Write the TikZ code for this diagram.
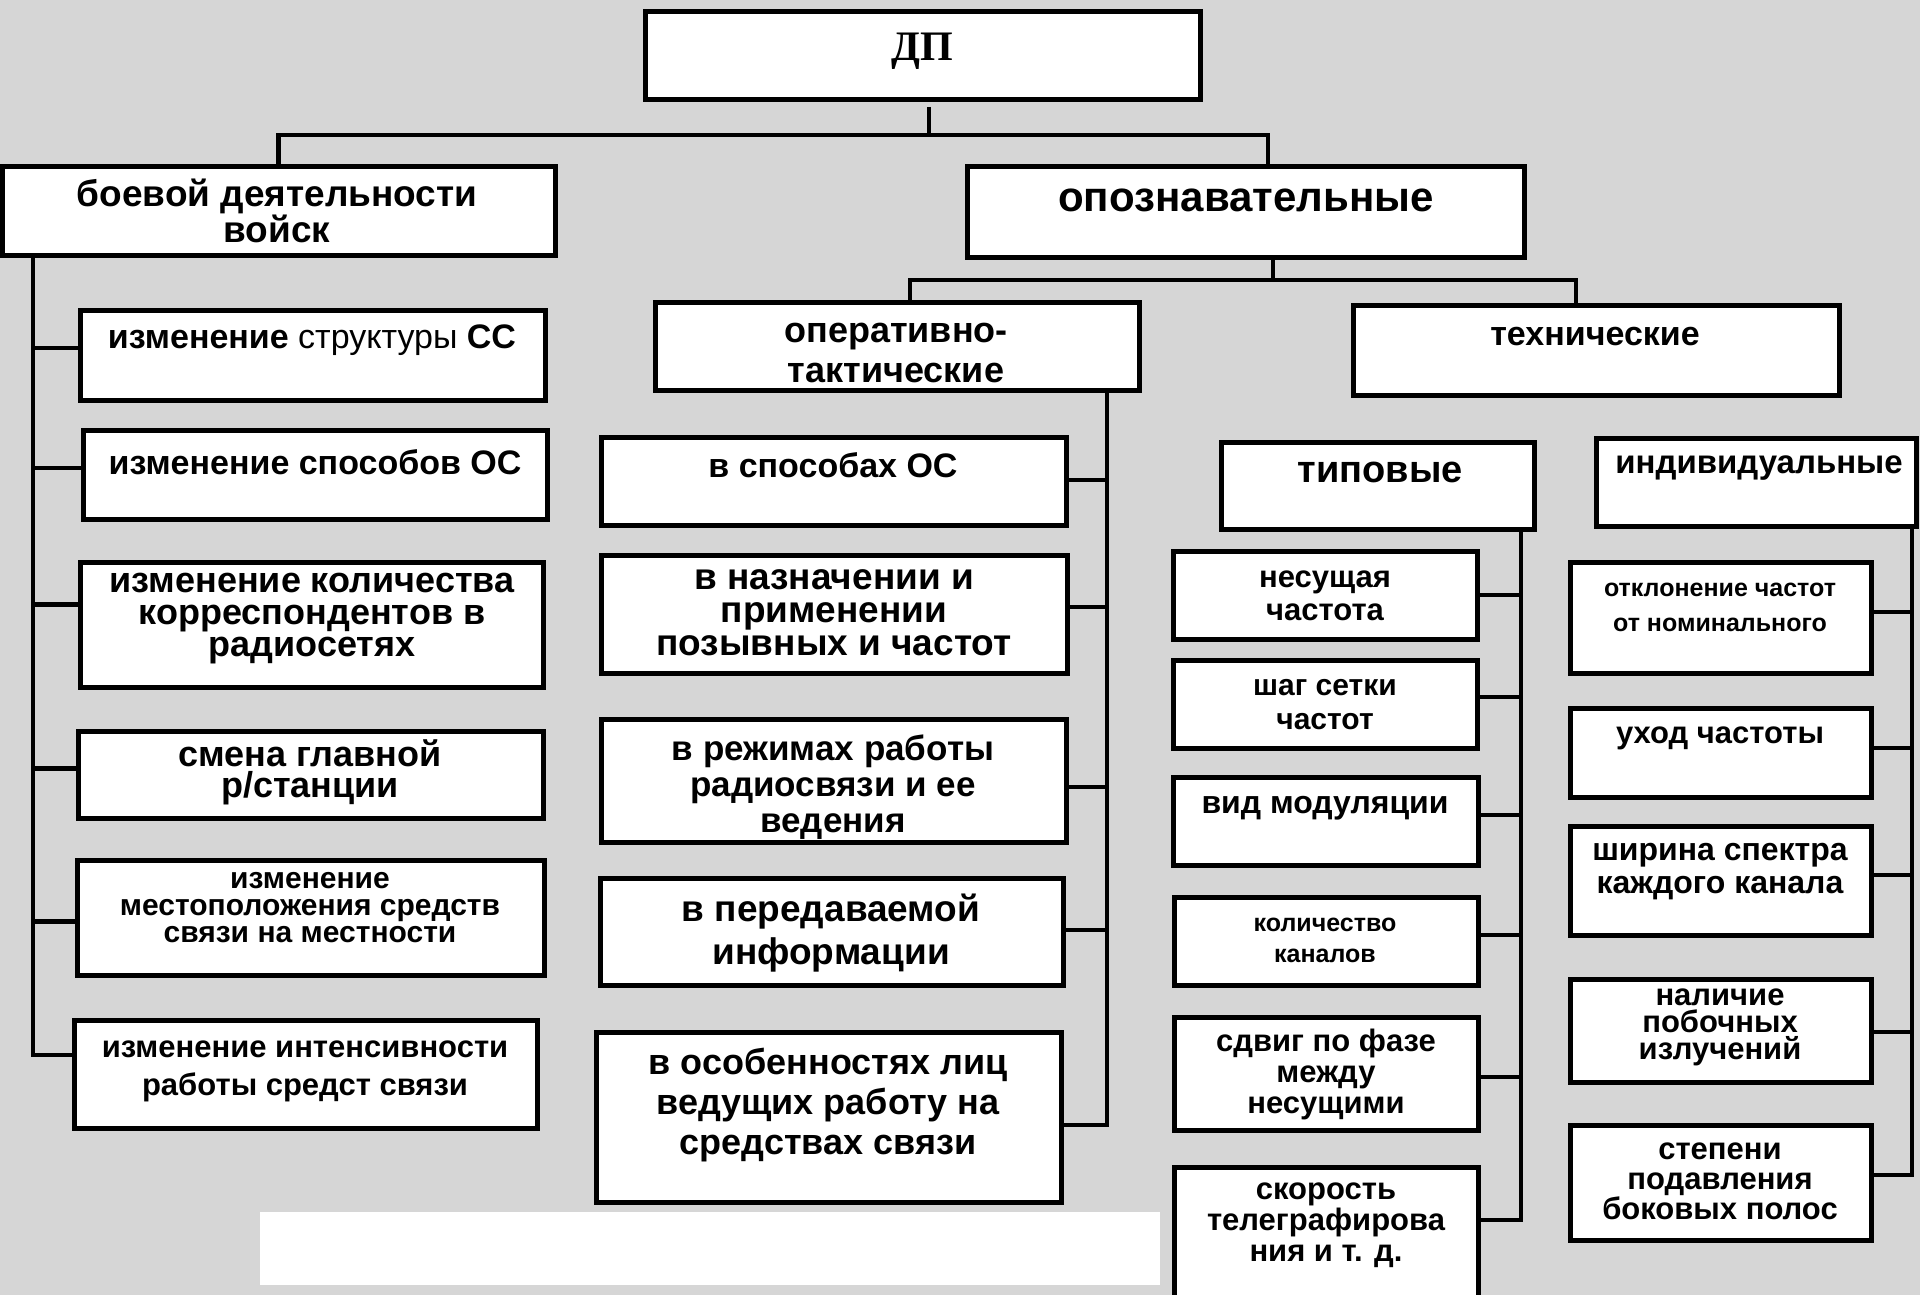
\documentclass[tikz,border=0pt]{standalone}
\usepackage{fontspec}
\setmainfont{Liberation Sans}
\newfontfamily\serifdp{Liberation Serif}
\definecolor{bgc}{HTML}{D6D6D6}
\newcommand\fs[2]{\fontsize{#1}{#2}\selectfont\bfseries}
\newcommand\bx[5]{\node[box, minimum width={#4-#2}, minimum height={#5-#3}] (#1) at ({(#2+#4)/2},{(#3+#5)/2}) {};}
\begin{document}
\begin{tikzpicture}[x=1pt,y=-1pt,
  box/.style={draw, fill=white, line width=5pt, inner sep=0pt, outer sep=0pt},
  conn/.style={line width=4.5pt},
  txt/.style={align=center, inner sep=0pt}]
\useasboundingbox (0,0) rectangle (1920,1295);
\clip (0,0) rectangle (1920,1295);
\fill[bgc] (0,0) rectangle (1920,1295);
\fill[white] (260,1212) rectangle (1160,1285);

% boxes
\bx{dp}{645}{12}{1200}{100}
\bx{bd}{2}{167}{555}{255}
\bx{ops}{967}{167}{1524}{257}
\bx{op}{655}{302}{1139}{390}
\bx{te}{1353}{305}{1839}{395}
\bx{b1}{80}{310}{545}{400}
\bx{b2}{83}{430}{547}{519}
\bx{b3}{80}{562}{543}{687}
\bx{b4}{78}{731}{543}{818}
\bx{b5}{77}{860}{544}{975}
\bx{b6}{74}{1020}{537}{1128}
\bx{m1}{601}{437}{1066}{525}
\bx{m2}{601}{555}{1067}{673}
\bx{m3}{601}{719}{1066}{842}
\bx{m4}{600}{878}{1063}{985}
\bx{m5}{596}{1032}{1061}{1202}
\bx{tp}{1221}{442}{1534}{529}
\bx{ind}{1596}{438}{1916}{526}
\bx{t1}{1173}{551}{1477}{639}
\bx{t2}{1173}{660}{1477}{748}
\bx{t3}{1173}{777}{1478}{865}
\bx{t4}{1174}{897}{1478}{985}
\bx{t5}{1174}{1017}{1478}{1130}
\bx{t6}{1174}{1167}{1478}{1320}
\bx{i1}{1570}{562}{1871}{673}
\bx{i2}{1570}{708}{1871}{797}
\bx{i3}{1570}{826}{1871}{935}
\bx{i4}{1570}{979}{1871}{1082}
\bx{i5}{1570}{1125}{1871}{1240}

% texts
\node[txt, font=\serifdp\fs{42}{46}] (dpt) at (922,51) {ДП};
\node[txt, font=\fs{37}{36}] (bdt) at (277,211) {боевой деятельности\\войск};
\node[txt, font=\fs{42}{46}] (opst) at (1246,200) {опознавательные};
\node[txt, font=\fs{36}{40}] (opt) at (896,353) {оперативно-\\тактические};
\node[txt, font=\fs{34}{38}] (tet) at (1595,337) {технические};
\node[txt, font=\fs{34}{38}] (b1t) at (312,340) {изменение {\mdseries структуры} СС};
\node[txt, font=\fs{34}{38}] (b2t) at (315,462) {изменение способов ОС};
\node[txt, font=\fs{36}{32}] (b3t) at (312,619) {изменение количества\\корреспондентов в\\радиосетях};
\node[txt, font=\fs{36}{31}] (b4t) at (310,772) {смена главной\\р/станции};
\node[txt, font=\fs{30}{27}] (b5t) at (310,908) {изменение\\местоположения средств\\связи на местности};
\node[txt, font=\fs{31}{38}] (b6t) at (305,1071) {изменение интенсивности\\работы средст связи};
\node[txt, font=\fs{34}{38}] (m1t) at (833,465) {в способах ОС};
\node[txt, font=\fs{37}{33}] (m2t) at (834,613) {в назначении и\\применении\\позывных и частот};
\node[txt, font=\fs{35}{36}] (m3t) at (833,787) {в режимах работы\\радиосвязи и ее\\ведения};
\node[txt, font=\fs{37}{43}] (m4t) at (831,933) {в передаваемой\\информации};
\node[txt, font=\fs{36}{40}] (m5t) at (828,1105) {в особенностях лиц\\ведущих работу на\\средствах связи};
\node[txt, font=\fs{38}{42}] (tpt) at (1380,472) {типовые};
\node[txt, font=\fs{33}{36}] (indt) at (1759,468) {индивидуальные};
\node[txt, font=\fs{31}{33}] (t1t) at (1325,596) {несущая\\частота};
\node[txt, font=\fs{30}{34}] (t2t) at (1325,705) {шаг сетки\\частот};
\node[txt, font=\fs{32}{36}] (t3t) at (1325,808) {вид модуляции};
\node[txt, font=\fs{25}{31}] (t4t) at (1325,940) {количество\\каналов};
\node[txt, font=\fs{31}{31}] (t5t) at (1326,1074) {сдвиг по фазе\\между\\несущими};
\node[txt, font=\fs{31}{31}] (t6t) at (1326,1225) {скорость\\телеграфирова\\ния и т. д.};
\node[txt, font=\fs{25}{35}] (i1t) at (1720,607) {отклонение частот\\от номинального};
\node[txt, font=\fs{31}{35}] (i2t) at (1720,738) {уход частоты};
\node[txt, font=\fs{32}{33}] (i3t) at (1720,872) {ширина спектра\\каждого канала};
\node[txt, font=\fs{31}{27}] (i4t) at (1720,1027) {наличие\\побочных\\излучений};
\node[txt, font=\fs{31}{30}] (i5t) at (1720,1181) {степени\\подавления\\боковых полос};

% top tree
\coordinate (j0) at (929,135);
\draw[conn] ([xshift=6.5pt,yshift=-7pt]dp.south) -- (j0);
\draw[conn] (bd.north) |- (j0) -| ([xshift=22.5pt]ops.north);
\coordinate (j1) at (1273,280);
\draw[conn] ([xshift=27.5pt]ops.south) -- (j1);
\draw[conn] ([xshift=13pt]op.north) |- (j1) -| ([xshift=-20pt]te.north);

% left spine
\coordinate (ls) at ([xshift=31pt]bd.south west);
\draw[conn] (ls) |- ([yshift=19pt]b6.west);
\foreach \b/\s in {b1/7,b2/6.5,b3/20,b4/6,b5/-4}
  \draw[conn] ([yshift=\s pt]\b.west) -- ([yshift=\s pt]\b.west -| ls);

% middle spine
\coordinate (ms) at ([xshift=-32pt]op.south east);
\draw[conn] (ms) |- ([yshift=-8pt]m5.east);
\foreach \b/\s in {m1/1,m2/7,m3/-6.5,m4/1.5}
  \draw[conn] ([yshift=\s pt]\b.east) -- ([yshift=\s pt]\b.east -| ms);

% typical spine
\coordinate (ts) at ([xshift=-13pt]tp.south east);
\draw[conn] (ts) |- ([yshift=23.5pt]t6.east);
\foreach \b/\s in {t1/0,t2/7,t3/6,t4/6,t5/-3.5}
  \draw[conn] ([yshift=\s pt]\b.east) -- ([yshift=\s pt]\b.east -| ts);

% individual spine
\coordinate (is) at ([xshift=-4pt]ind.south east);
\draw[conn] (is) |- ([yshift=7.5pt]i5.east);
\foreach \b/\s in {i1/5.5,i2/4.5,i3/5.5,i4/-1.5}
  \draw[conn] ([yshift=\s pt]\b.east) -- ([yshift=\s pt]\b.east -| is);
\end{tikzpicture}
\end{document}
